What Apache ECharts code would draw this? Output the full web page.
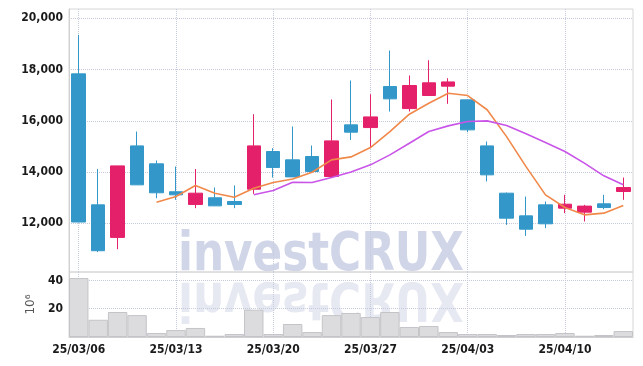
<!DOCTYPE html>
<html>
<head>
<meta charset="utf-8">
<script src="https://cdn.jsdelivr.net/npm/echarts@6/dist/echarts.min.js"></script>
<style>
html,body{margin:0;padding:0;background:#fff;}
#c{width:643px;height:366px;}
</style>
</head>
<body>
<div id="c"></div>
<script>
var dates = ['25/03/06','25/03/07','25/03/10','25/03/11','25/03/12','25/03/13','25/03/14','25/03/17','25/03/18','25/03/19','25/03/20','25/03/21','25/03/24','25/03/25','25/03/26','25/03/27','25/03/28','25/03/31','25/04/01','25/04/02','25/04/03','25/04/04','25/04/07','25/04/08','25/04/09','25/04/10','25/04/11','25/04/14','25/04/15'];
var openV  = [17830,12720,11450,15020,14320,13230,12735,12995,12850,13330,14800,14475,14605,13825,15840,15735,17335,16475,16985,17350,16815,15020,13175,12290,12720,12590,12435,12760,13240];
var closeV = [12050,10930,14240,13500,13190,13110,13175,12680,12735,15020,14175,13810,14020,15215,15555,16150,16855,17375,17480,17515,15645,13890,12200,11770,11980,12745,12670,12615,13395];
var lowV   = [12040,10875,10990,13500,12980,12915,12590,12680,12590,13150,13785,13810,14020,13825,15255,14930,16360,16360,16985,16660,15555,13630,11940,11510,11810,12395,12070,12550,12915];
var highV  = [19350,14120,14240,15580,14450,14215,14120,13395,13475,16255,14930,15775,15035,16830,17570,17035,18740,17765,18360,17660,16815,15190,13200,13045,12850,13110,12720,13110,13785];
var ma5 = [null,null,null,null,12824,13045,13474,13175,13019,13370,13590,13730,13990,14475,14590,14956,15580,16256,16685,17075,16984,16430,15380,14210,13110,12616,12330,12395,12694];
var ma10 = [null,null,null,null,null,null,null,null,null,13110,13280,13604,13590,13786,14000,14280,14670,15125,15580,15800,15970,15996,15814,15490,15151,14800,14345,13851,13500];
var volume = [41.7,12.2,17.7,15.5,2.8,4.9,6.4,0.9,2.1,19.3,2.1,9.2,3.5,15.5,17,14.1,17.7,7.1,7.8,3.5,2.1,2.1,1.4,2.1,2.1,2.8,0.9,1.4,4.2];
var priceTicks = [12000,14000,16000,18000,20000];
var volTicks = [20,40];
var markedDates = ['25/03/06','25/03/13','25/03/20','25/03/27','25/04/03','25/04/10'];

var candleData = openV.map(function(o,i){return [o, closeV[i], lowV[i], highV[i]];});

var labelFont = "'DejaVu Sans Condensed','DejaVu Sans',sans-serif";
var gridCol = '#c5cadc';
function vLines(){
  return {
    silent:true, z:0, zlevel:0, symbol:['none','none'], label:{show:false},
    lineStyle:{type:'dotted', color:gridCol, width:1},
    emphasis:{disabled:true},
    data: markedDates.map(function(d){return {xAxis:d};})
  };
}

var chart = echarts.init(document.getElementById('c'), null, {renderer:'canvas'});
chart.setOption({
  animation:false,
  backgroundColor:'#fff',
  graphic:[
    {type:'text', z:-10, x:321, y:256, scaleX:0.9, silent:true,
     style:{text:'investCRUX', fill:'#d0d5e8', font:"bold 54px 'DejaVu Sans Condensed',sans-serif", textAlign:'center', textVerticalAlign:'middle'}},
    {type:'text', z:-10, x:321, y:297, scaleX:0.9, scaleY:-1, silent:true,
     style:{text:'investCRUX', fill:'#e7e9f2', font:"bold 54px 'DejaVu Sans Condensed',sans-serif", textAlign:'center', textVerticalAlign:'middle'}}
  ],
  grid:[
    {left:69, right:10, top:9, height:263, show:true, borderColor:'#d6d6d6', borderWidth:1},
    {left:69, right:10, top:272, height:65, show:true, borderColor:'#d6d6d6', borderWidth:1}
  ],
  xAxis:[
    {type:'category', gridIndex:0, data:dates, boundaryGap:true,
     axisLine:{show:false}, axisTick:{show:false}, axisLabel:{show:false}, splitLine:{show:false}},
    {type:'category', gridIndex:1, data:dates, boundaryGap:true,
     axisLine:{show:true, lineStyle:{color:'#d0d0d0'}}, axisTick:{show:false},
     axisLabel:{show:true, interval:4, color:'#1a1a1a', fontFamily:labelFont, fontSize:12, fontWeight:'bold', margin:7},
     splitLine:{show:false}}
  ],
  yAxis:[
    {type:'value', gridIndex:0, min:10100, max:20360,
     axisLine:{show:true, lineStyle:{color:'#d0d0d0'}}, axisTick:{show:false, customValues:priceTicks},
     axisLabel:{customValues:priceTicks, color:'#1a1a1a', fontFamily:labelFont, fontSize:12, fontWeight:'bold', margin:6,
       formatter:function(v){return String(v).replace(/\B(?=(\d{3})+(?!\d))/g, ',');}},
     splitLine:{show:true, customValues:priceTicks, lineStyle:{type:'dotted', color:gridCol}}},
    {type:'value', gridIndex:1, min:0, max:46,
     name:'10\u2076', nameLocation:'middle', nameGap:25, nameRotate:90,
     nameTextStyle:{color:'#555', fontFamily:'DejaVu Sans', fontSize:12},
     axisLine:{show:true, lineStyle:{color:'#d0d0d0'}}, axisTick:{show:false, customValues:volTicks},
     axisLabel:{customValues:volTicks, color:'#1a1a1a', fontFamily:labelFont, fontSize:12, fontWeight:'bold', margin:6},
     splitLine:{show:true, customValues:volTicks, lineStyle:{type:'dotted', color:gridCol}}}
  ],
  series:[
    {type:'candlestick', z:3, xAxisIndex:0, yAxisIndex:0, data:candleData, barWidth:14, markLine:vLines(),
     itemStyle:{color:'#e5206a', color0:'#3398c9', borderColor:'#e5206a', borderColor0:'#3398c9', borderWidth:1}},
    {type:'line', z:4, xAxisIndex:0, yAxisIndex:0, data:ma5, showSymbol:false, symbol:'none',
     lineStyle:{color:'#f0884a', width:1.6}},
    {type:'line', z:4, xAxisIndex:0, yAxisIndex:0, data:ma10, showSymbol:false, symbol:'none',
     lineStyle:{color:'#c955e8', width:1.6}},
    {type:'bar', z:3, xAxisIndex:1, yAxisIndex:1, data:volume, barWidth:'100%', markLine:vLines(),
     itemStyle:{color:'#dcdcdf', borderColor:'#c4c4c8', borderWidth:1}}
  ]
});
</script>
</body>
</html>
